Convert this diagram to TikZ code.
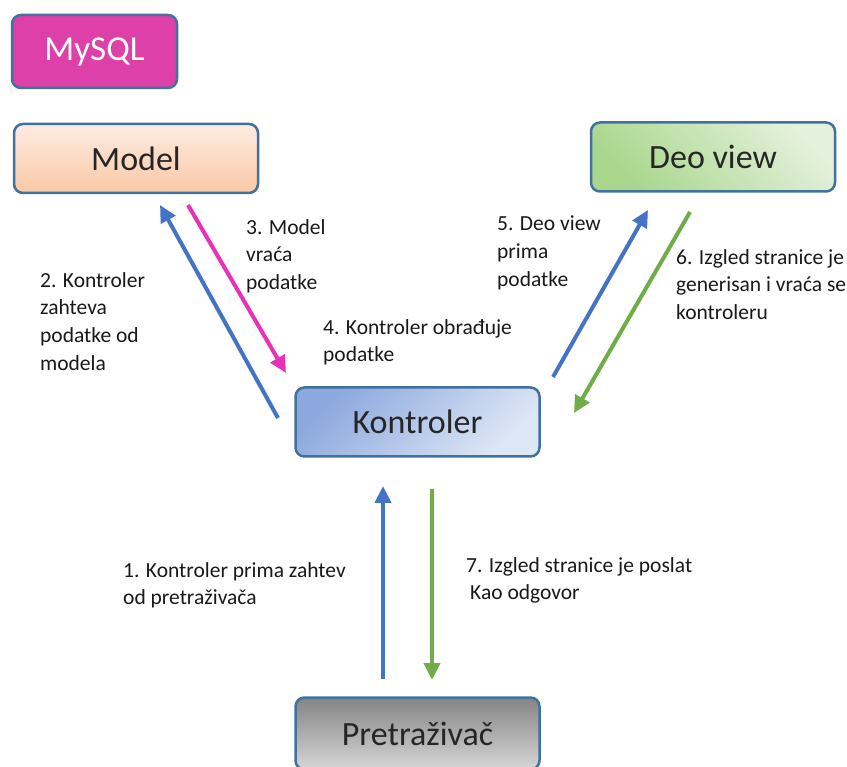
\documentclass[tikz,border=0pt]{standalone}
\usepackage{fontspec}
\setmainfont{Carlito}
\usetikzlibrary{arrows.meta}
\definecolor{bordc}{HTML}{41719C}
\definecolor{mysqlc}{HTML}{DD40A9}
\definecolor{blueA}{HTML}{4472C4}
\definecolor{greenA}{HTML}{70AD47}
\definecolor{pinkA}{HTML}{E830B8}
\tikzset{
  box/.style={draw=bordc, line width=2.5pt, rounded corners=9pt, minimum width=244pt, minimum height=69pt, font=\fontsize{34}{40}\selectfont, text=black!85},
  lbl/.style={anchor=north west, align=left, inner sep=0pt, font=\fontsize{21.5}{27.8}\selectfont, text=black!90},
  arr/.style={line width=4pt, -{Triangle[length=17pt,width=16pt]}},
}
\begin{document}
\begin{tikzpicture}[x=1pt,y=-1pt]
\useasboundingbox (0,0) rectangle (847,767);
% boxes
\node[box, minimum width=165pt, minimum height=73pt, fill=mysqlc, text=white, font=\fontsize{35}{40}\selectfont] (mysql) at (94.5,51.5) {MySQL};
\node[box, top color={rgb,255:red,253;green,236;blue,226}, bottom color={rgb,255:red,251;green,200;blue,166}] (model) at (136,158.5) {Model};
\node[box, top color={rgb,255:red,228;green,241;blue,220}, bottom color={rgb,255:red,168;green,214;blue,140}, shading angle=-45] (deo) at (713,157) {Deo view};
\node[box, top color={rgb,255:red,140;green,168;blue,222}, bottom color={rgb,255:red,222;green,231;blue,246}, shading angle=45] (kon) at (417.5,422) {Kontroler};
\node[box, minimum height=72pt, top color={rgb,255:red,132;green,132;blue,132}, bottom color={rgb,255:red,214;green,214;blue,214}] (pre) at (417.5,733.5) {Pretraživač};
% arrow endpoints
\coordinate (a2s) at (278,418); \coordinate (a2e) at (160,205);
\coordinate (a3s) at (188,205); \coordinate (a3e) at (286,373);
\coordinate (a5s) at (553,377); \coordinate (a5e) at (648,210);
\coordinate (a6s) at (690,212); \coordinate (a6e) at (574,413);
\coordinate (a1s) at (383,679); \coordinate (a1e) at (383,486);
\coordinate (a7s) at (432,489); \coordinate (a7e) at (432,680);
\draw[arr, blueA] (a2s) -- (a2e);
\draw[arr, pinkA] (a3s) -- (a3e);
\draw[arr, blueA] (a5s) -- (a5e);
\draw[arr, greenA] (a6s) -- (a6e);
\draw[arr, blueA] (a1s) -- (a1e);
\draw[arr, greenA] (a7s) -- (a7e);
% labels
\node[lbl] (t2) at (40,272) {2. Kontroler\\zahteva\\podatke od\\modela};
\node[lbl] (t3) at (246,219) {3. Model\\vraća\\podatke};
\node[lbl] (t4) at (323,319) {4. Kontroler obrađuje\\podatke};
\node[lbl] (t5) at (497,216) {5. Deo view\\prima\\podatke};
\node[lbl] (t6) at (676,249) {6. Izgled stranice je\\generisan i vraća se\\kontroleru};
\node[lbl] (t1) at (123,562) {1. Kontroler prima zahtev\\od pretraživača};
\node[lbl] (t7) at (466,557) {7. Izgled stranice je poslat\\\hspace*{4pt}Kao odgovor};
\end{tikzpicture}
\end{document}
